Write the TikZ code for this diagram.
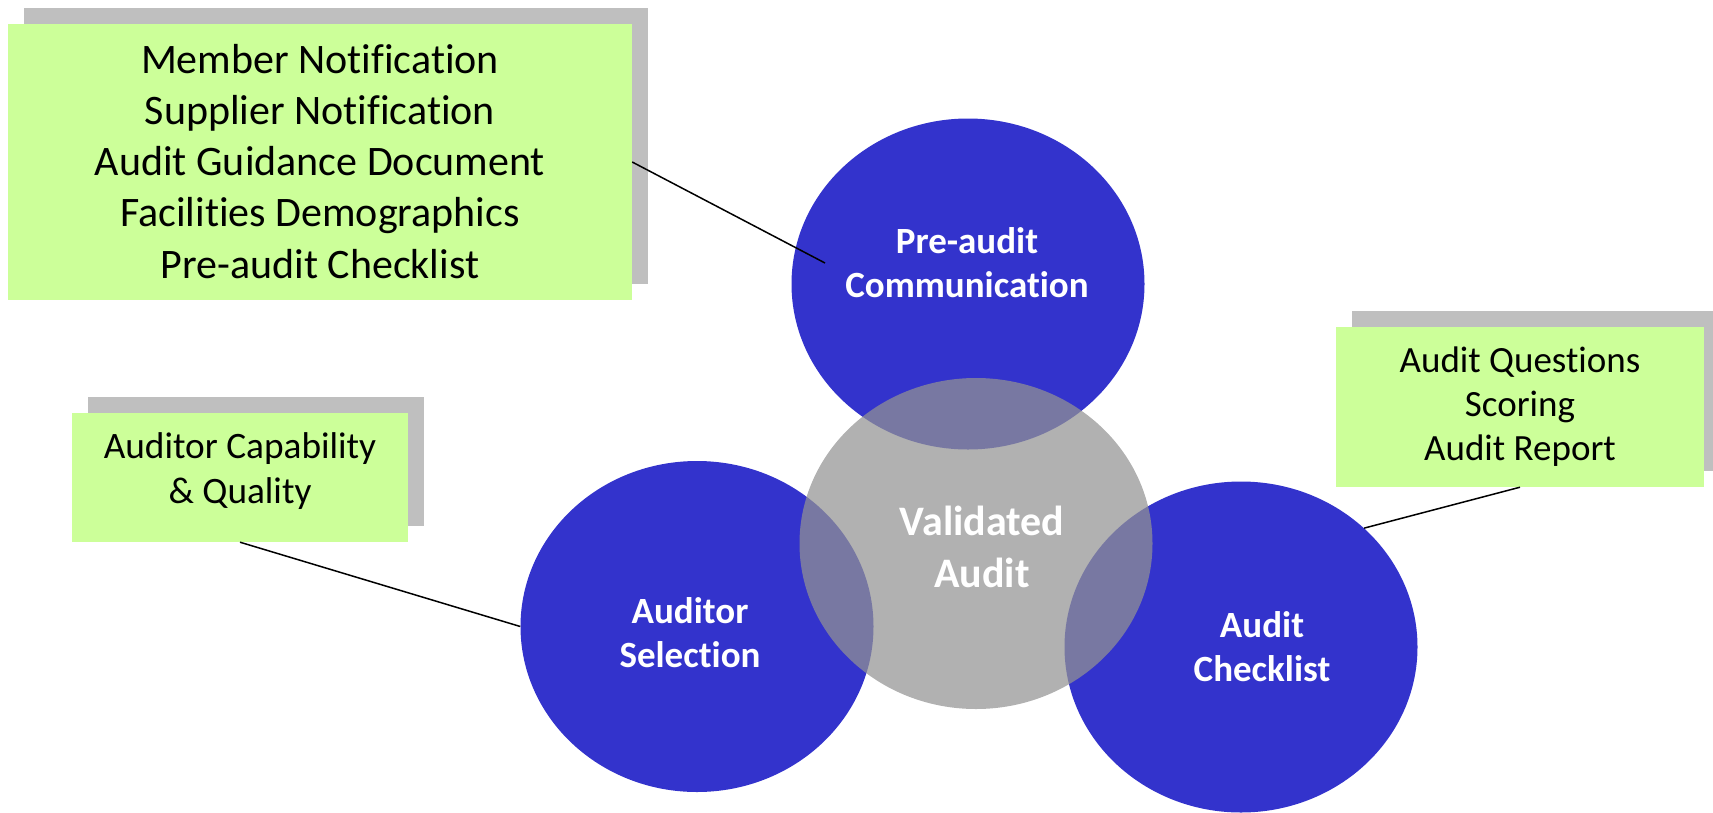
\documentclass[tikz,border=0pt]{standalone}
\usepackage{fontspec}
\setmainfont{Carlito}[Ligatures=NoCommon]
\usetikzlibrary{shapes.geometric}
\definecolor{circblue}{HTML}{3333CC}
\definecolor{boxgreen}{HTML}{CCFF99}
\definecolor{shadowgray}{HTML}{BFBFBF}
\definecolor{centergray}{RGB}{147,147,147}
\begin{document}
\begin{tikzpicture}[x=1pt,y=-1pt,
  blob/.style={ellipse, fill=circblue, minimum width=353pt, minimum height=331pt, inner sep=0pt},
  core/.style={ellipse, fill=centergray, fill opacity=0.72, minimum width=353pt, minimum height=331pt, inner sep=0pt},
  shadowbox/.style={rectangle, fill=shadowgray, inner sep=0pt},
  notebox/.style={rectangle, fill=boxgreen, inner sep=0pt},
  link/.style={draw=black, line width=1.5pt},
  notetxt/.style={align=center, anchor=base, inner sep=0pt, text=black},
  blobtxt/.style={align=center, anchor=base, inner sep=0pt, text=white, font=\bfseries\fontsize{37}{44}\selectfont},
]
\useasboundingbox (0,0) rectangle (1713,812);

% shadows
\node[shadowbox, minimum width=624pt, minimum height=276pt] (box1s) at (336,146) {};
\node[shadowbox, minimum width=336pt, minimum height=129pt] (box2s) at (256,461.5) {};
\node[shadowbox, minimum width=368pt, minimum height=160pt] (box3s) at (1536,391) {};
% green boxes
\node[notebox, minimum width=624pt, minimum height=276pt] (box1) at (320,162) {};
\node[notebox, minimum width=336pt, minimum height=129pt] (box2) at (240,477.5) {};
\node[notebox, minimum width=368pt, minimum height=160pt] (box3) at (1520,407) {};

% circles
\node[blob] (pre) at (968,284) {};
\node[blob] (sel) at (697,626.5) {};
\node[blob] (chk) at (1241,647) {};
\node[core] (val) at (976,543.5) {};

% connectors
\coordinate (preend) at (825,263);
\draw[link] (box1.east) -- (preend);
\draw[link] (box2.south) -- (sel.west);
\draw[link] (box3.south) -- (chk.44);

% texts (anchor=base is the baseline of the last line)
\node[notetxt, font=\fontsize{42}{51.2}\selectfont] (box1t) at (320,278)
  {Member Notification\\Supplier Notification\\Audit Guidance Document\\Facilities Demographics\\Pre-audit Checklist};
\node[notetxt, font=\fontsize{37.3}{45}\selectfont] (box2t) at (240,503)
  {Auditor Capability\\\& Quality};
\node[notetxt, font=\fontsize{37}{44}\selectfont] (box3t) at (1520,460)
  {Audit Questions\\Scoring\\Audit Report};

\node[blobtxt] (pret) at (967,297) {Pre-audit\\Communication};
\node[blobtxt] (selt) at (690,667) {Auditor\\Selection};
\node[blobtxt] (chkt) at (1262,681) {Audit\\Checklist};
\node[blobtxt, font=\bfseries\fontsize{42}{52}\selectfont] (valt) at (982,587) {Validated\\Audit};
\end{tikzpicture}
\end{document}
